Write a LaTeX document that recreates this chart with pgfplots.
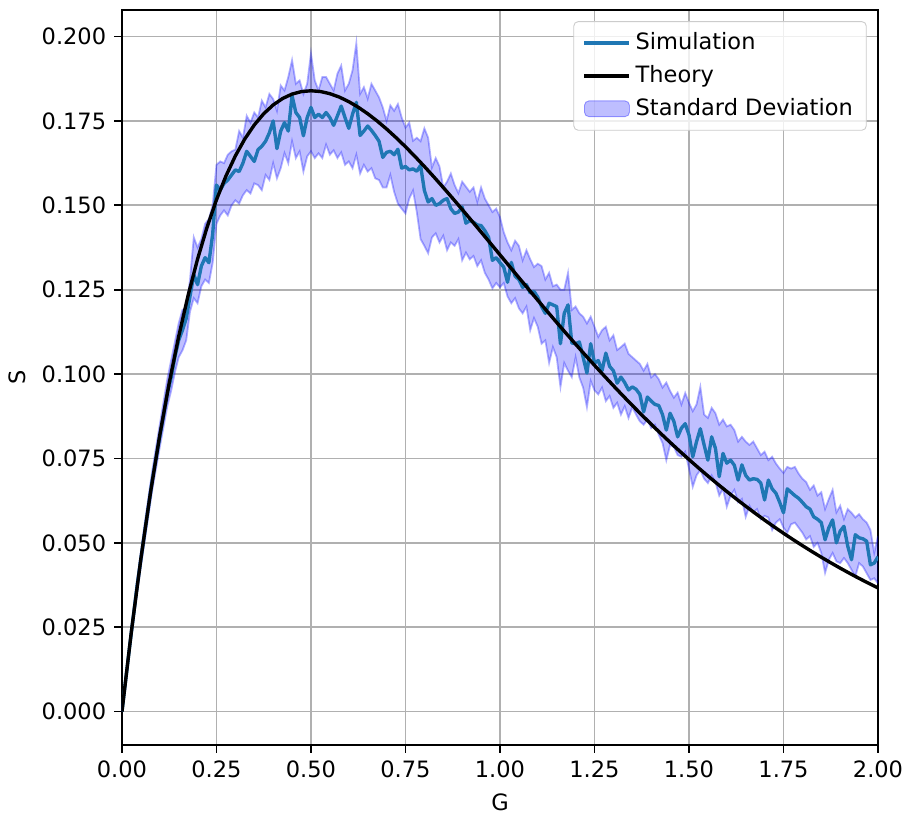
\documentclass[border=0pt]{standalone}
\usepackage{fontspec}
\setmainfont{DejaVu Sans}
\usepackage{pgfplots}
\usepackage{pgfplotstable}
\pgfplotsset{compat=1.18}
\usepgfplotslibrary{fillbetween}
\definecolor{simblue}{HTML}{1F77B4}
\definecolor{gridc}{HTML}{B0B0B0}
\definecolor{legedge}{HTML}{CCCCCC}

\pgfplotstableread{
G S lo hi
0.00 0.0000 0.0000 0.0000
0.02 0.0190 0.0178 0.0203
0.04 0.0372 0.0352 0.0390
0.06 0.0530 0.0505 0.0556
0.08 0.0684 0.0655 0.0712
0.10 0.0815 0.0783 0.0850
0.12 0.0942 0.0905 0.0985
0.13 0.0990 0.0950 0.1040
0.14 0.1050 0.1005 0.1095
0.15 0.1100 0.1050 0.1150
0.16 0.1130 0.1070 0.1190
0.17 0.1165 0.1100 0.1195
0.18 0.1230 0.1185 0.1280
0.19 0.1295 0.1225 0.1405
0.20 0.1265 0.1210 0.1375
0.21 0.1320 0.1260 0.1400
0.22 0.1345 0.1280 0.1445
0.23 0.1330 0.1270 0.1460
0.24 0.1415 0.1330 0.1500
0.25 0.1560 0.1445 0.1620
0.26 0.1545 0.1470 0.1630
0.27 0.1565 0.1485 0.1625
0.28 0.1575 0.1470 0.1650
0.29 0.1590 0.1500 0.1660
0.30 0.1605 0.1515 0.1665
0.31 0.1600 0.1505 0.1720
0.32 0.1625 0.1530 0.1700
0.33 0.1660 0.1545 0.1765
0.34 0.1645 0.1535 0.1745
0.35 0.1630 0.1565 0.1775
0.36 0.1665 0.1560 0.1760
0.37 0.1675 0.1545 0.1810
0.38 0.1690 0.1590 0.1790
0.39 0.1715 0.1575 0.1830
0.40 0.1750 0.1625 0.1815
0.41 0.1668 0.1580 0.1780
0.42 0.1720 0.1610 0.1855
0.43 0.1745 0.1655 0.1840
0.44 0.1720 0.1625 0.1880
0.45 0.1825 0.1690 0.1930
0.46 0.1775 0.1640 0.1860
0.47 0.1760 0.1660 0.1870
0.48 0.1706 0.1600 0.1830
0.49 0.1760 0.1645 0.1860
0.50 0.1790 0.1660 0.1950
0.51 0.1760 0.1640 0.1870
0.52 0.1770 0.1654 0.1840
0.53 0.1760 0.1640 0.1880
0.54 0.1775 0.1680 0.1880
0.55 0.1760 0.1650 0.1860
0.56 0.1737 0.1663 0.1840
0.57 0.1765 0.1640 0.1890
0.58 0.1794 0.1657 0.1914
0.59 0.1760 0.1620 0.1840
0.60 0.1728 0.1630 0.1860
0.61 0.1770 0.1610 0.1900
0.62 0.1805 0.1650 0.1980
0.63 0.1707 0.1594 0.1830
0.64 0.1720 0.1620 0.1850
0.65 0.1735 0.1600 0.1816
0.66 0.1722 0.1610 0.1860
0.67 0.1707 0.1580 0.1840
0.68 0.1690 0.1575 0.1820
0.69 0.1642 0.1553 0.1790
0.70 0.1657 0.1553 0.1750
0.71 0.1660 0.1590 0.1796
0.72 0.1650 0.1540 0.1780
0.73 0.1666 0.1505 0.1800
0.74 0.1610 0.1490 0.1760
0.75 0.1615 0.1476 0.1730
0.76 0.1605 0.1520 0.1745
0.77 0.1608 0.1544 0.1691
0.78 0.1601 0.1480 0.1700
0.79 0.1618 0.1400 0.1690
0.80 0.1544 0.1380 0.1728
0.81 0.1510 0.1358 0.1700
0.82 0.1520 0.1405 0.1612
0.83 0.1500 0.1417 0.1640
0.84 0.1505 0.1390 0.1615
0.85 0.1515 0.1410 0.1553
0.86 0.1520 0.1367 0.1570
0.87 0.1490 0.1390 0.1594
0.88 0.1476 0.1380 0.1560
0.89 0.1480 0.1400 0.1536
0.90 0.1495 0.1337 0.1570
0.91 0.1447 0.1360 0.1555
0.92 0.1455 0.1340 0.1540
0.93 0.1450 0.1350 0.1553
0.94 0.1442 0.1320 0.1510
0.95 0.1440 0.1337 0.1553
0.96 0.1425 0.1300 0.1520
0.97 0.1405 0.1280 0.1500
0.98 0.1337 0.1254 0.1480
0.99 0.1345 0.1270 0.1490
1.00 0.1330 0.1257 0.1465
1.01 0.1317 0.1270 0.1420
1.02 0.1272 0.1230 0.1390
1.03 0.1331 0.1210 0.1367
1.04 0.1290 0.1225 0.1395
1.05 0.1280 0.1195 0.1380
1.06 0.1257 0.1180 0.1337
1.07 0.1265 0.1200 0.1367
1.08 0.1240 0.1130 0.1340
1.09 0.1245 0.1166 0.1317
1.10 0.1228 0.1140 0.1327
1.11 0.1200 0.1090 0.1320
1.12 0.1180 0.1100 0.1280
1.13 0.1210 0.1033 0.1300
1.14 0.1205 0.1080 0.1260
1.15 0.1200 0.1050 0.1265
1.16 0.1090 0.0962 0.1250
1.17 0.1180 0.1033 0.1250
1.18 0.1205 0.1010 0.1300
1.19 0.1092 0.0991 0.1190
1.20 0.1090 0.1050 0.1200
1.21 0.1095 0.0990 0.1180
1.22 0.1050 0.0960 0.1170
1.23 0.1003 0.0902 0.1150
1.24 0.1090 0.0980 0.1170
1.25 0.1033 0.0952 0.1140
1.26 0.1040 0.0940 0.1110
1.27 0.1010 0.0960 0.1130
1.28 0.1062 0.0920 0.1140
1.29 0.1023 0.0935 0.1100
1.30 0.1010 0.0900 0.1115
1.31 0.0973 0.0915 0.1071
1.32 0.0991 0.0880 0.1080
1.33 0.0975 0.0905 0.1090
1.34 0.0953 0.0870 0.1060
1.35 0.0962 0.0902 0.1050
1.36 0.0955 0.0880 0.1040
1.37 0.0940 0.0860 0.1030
1.38 0.0888 0.0850 0.1010
1.39 0.0932 0.0865 0.1030
1.40 0.0920 0.0840 0.0990
1.41 0.0910 0.0850 0.1000
1.42 0.0907 0.0820 0.0985
1.43 0.0880 0.0796 0.0960
1.44 0.0834 0.0745 0.0975
1.45 0.0884 0.0790 0.0950
1.46 0.0860 0.0784 0.0930
1.47 0.0814 0.0760 0.0945
1.48 0.0840 0.0755 0.0910
1.49 0.0853 0.0770 0.0944
1.50 0.0820 0.0720 0.0915
1.51 0.0755 0.0666 0.0890
1.52 0.0800 0.0700 0.0910
1.53 0.0838 0.0716 0.0962
1.54 0.0790 0.0690 0.0880
1.55 0.0745 0.0677 0.0870
1.56 0.0814 0.0700 0.0900
1.57 0.0780 0.0680 0.0884
1.58 0.0696 0.0640 0.0850
1.59 0.0765 0.0660 0.0865
1.60 0.0736 0.0607 0.0845
1.61 0.0745 0.0640 0.0850
1.62 0.0730 0.0657 0.0834
1.63 0.0686 0.0620 0.0800
1.64 0.0731 0.0630 0.0814
1.65 0.0700 0.0577 0.0800
1.66 0.0686 0.0610 0.0790
1.67 0.0690 0.0590 0.0800
1.68 0.0688 0.0600 0.0780
1.69 0.0677 0.0570 0.0760
1.70 0.0627 0.0580 0.0770
1.71 0.0686 0.0575 0.0745
1.72 0.0660 0.0538 0.0755
1.73 0.0647 0.0560 0.0735
1.74 0.0620 0.0570 0.0720
1.75 0.0589 0.0545 0.0707
1.76 0.0660 0.0530 0.0725
1.77 0.0650 0.0555 0.0720
1.78 0.0640 0.0560 0.0725
1.79 0.0632 0.0545 0.0705
1.80 0.0620 0.0530 0.0690
1.81 0.0607 0.0510 0.0680
1.82 0.0600 0.0520 0.0657
1.83 0.0577 0.0488 0.0670
1.84 0.0570 0.0500 0.0640
1.85 0.0560 0.0470 0.0650
1.86 0.0509 0.0411 0.0600
1.87 0.0545 0.0450 0.0630
1.88 0.0568 0.0470 0.0657
1.89 0.0500 0.0445 0.0590
1.90 0.0535 0.0440 0.0610
1.91 0.0549 0.0455 0.0570
1.92 0.0490 0.0440 0.0600
1.93 0.0450 0.0420 0.0589
1.94 0.0524 0.0400 0.0575
1.95 0.0515 0.0440 0.0585
1.96 0.0512 0.0430 0.0570
1.97 0.0505 0.0410 0.0560
1.98 0.0435 0.0390 0.0538
1.99 0.0440 0.0395 0.0470
2.00 0.0459 0.0380 0.0520
}\simdata

\pgfplotstableread{
G S
0.000 0.000000
0.025 0.023781
0.050 0.045242
0.075 0.064553
0.100 0.081873
0.125 0.097350
0.150 0.111123
0.175 0.123320
0.200 0.134064
0.225 0.143466
0.250 0.151633
0.275 0.158661
0.300 0.164644
0.325 0.169665
0.350 0.173805
0.375 0.177138
0.400 0.179732
0.425 0.181651
0.450 0.182957
0.475 0.183702
0.500 0.183940
0.525 0.183717
0.550 0.183079
0.575 0.182066
0.600 0.180716
0.625 0.179066
0.650 0.177146
0.675 0.174987
0.700 0.172618
0.725 0.170063
0.750 0.167348
0.775 0.164492
0.800 0.161518
0.825 0.158441
0.850 0.155281
0.875 0.152052
0.900 0.148769
0.925 0.145444
0.950 0.142091
0.975 0.138717
1.000 0.135335
1.025 0.131953
1.050 0.128579
1.075 0.125220
1.100 0.121883
1.125 0.118574
1.150 0.115298
1.175 0.112059
1.200 0.108862
1.225 0.105710
1.250 0.102606
1.275 0.099555
1.300 0.096556
1.325 0.093613
1.350 0.090728
1.375 0.087901
1.400 0.085134
1.425 0.082428
1.450 0.079783
1.475 0.077202
1.500 0.074681
1.525 0.072222
1.550 0.069826
1.575 0.067492
1.600 0.065219
1.625 0.063008
1.650 0.060857
1.675 0.058766
1.700 0.056734
1.725 0.054762
1.750 0.052845
1.775 0.050987
1.800 0.049183
1.825 0.047434
1.850 0.045739
1.875 0.044096
1.900 0.042505
1.925 0.040964
1.950 0.039472
1.975 0.038029
2.000 0.036632
}\theory

\begin{document}
\begin{tikzpicture}
\begin{axis}[
  scale only axis, width=336pt, height=326.7pt,
  xmin=0, xmax=2, ymin=-0.0099, ymax=0.2079,
  xtick={0,0.25,0.5,0.75,1,1.25,1.5,1.75,2},
  ytick={0,0.025,0.05,0.075,0.1,0.125,0.15,0.175,0.2},
  xticklabel style={/pgf/number format/.cd, fixed, fixed zerofill, precision=2},
  yticklabel style={/pgf/number format/.cd, fixed, fixed zerofill, precision=3},
  scaled ticks=false,
  /pgf/number format/assume math mode=true,
  tick align=outside, tick pos=left, major tick length=3.5pt,
  every tick/.style={black, line width=0.8pt},
  axis line style={line width=0.8pt},
  grid=major, major grid style={gridc, line width=0.8pt},
  xlabel={G}, ylabel={S},
  legend cell align=left,
  legend image code/.code={\draw[#1] (0pt,0pt) -- (20pt,0pt);},
  legend style={at={(1,1)}, anchor=north east, xshift=-5pt, yshift=-5pt,
    draw=legedge, rounded corners=2pt, fill=white, fill opacity=0.8, text opacity=1,
    row sep=1.5pt, inner xsep=4pt, inner ysep=3pt},
]
\addplot[name path=up, draw=blue, draw opacity=0.3, line width=0.8pt, forget plot] table[x=G,y=hi]{\simdata};
\addplot[name path=dn, draw=blue, draw opacity=0.3, line width=0.8pt, forget plot] table[x=G,y=lo]{\simdata};
\addplot[fill=blue, fill opacity=0.25, draw=none, forget plot] fill between[of=up and dn];
\addplot[simblue, line width=1.5pt, line join=round] table[x=G,y=S]{\simdata};
\addlegendentry{Simulation}
\addplot[black, line width=1.5pt, line join=round] table[x=G,y=S]{\theory};
\addlegendentry{Theory}
\addlegendimage{legend image code/.code={\draw[fill=blue, fill opacity=0.25, draw=blue, draw opacity=0.35] (0pt,-3.5pt) rectangle (20pt,3.5pt);}}
\addlegendentry{Standard Deviation}
\end{axis}
\pgfresetboundingbox
\path[use as bounding box] ([shift={(-54.2pt,-30.4pt)}]current axis.south west) rectangle ([shift={(12pt,4.4pt)}]current axis.north east);
\end{tikzpicture}
\end{document}
